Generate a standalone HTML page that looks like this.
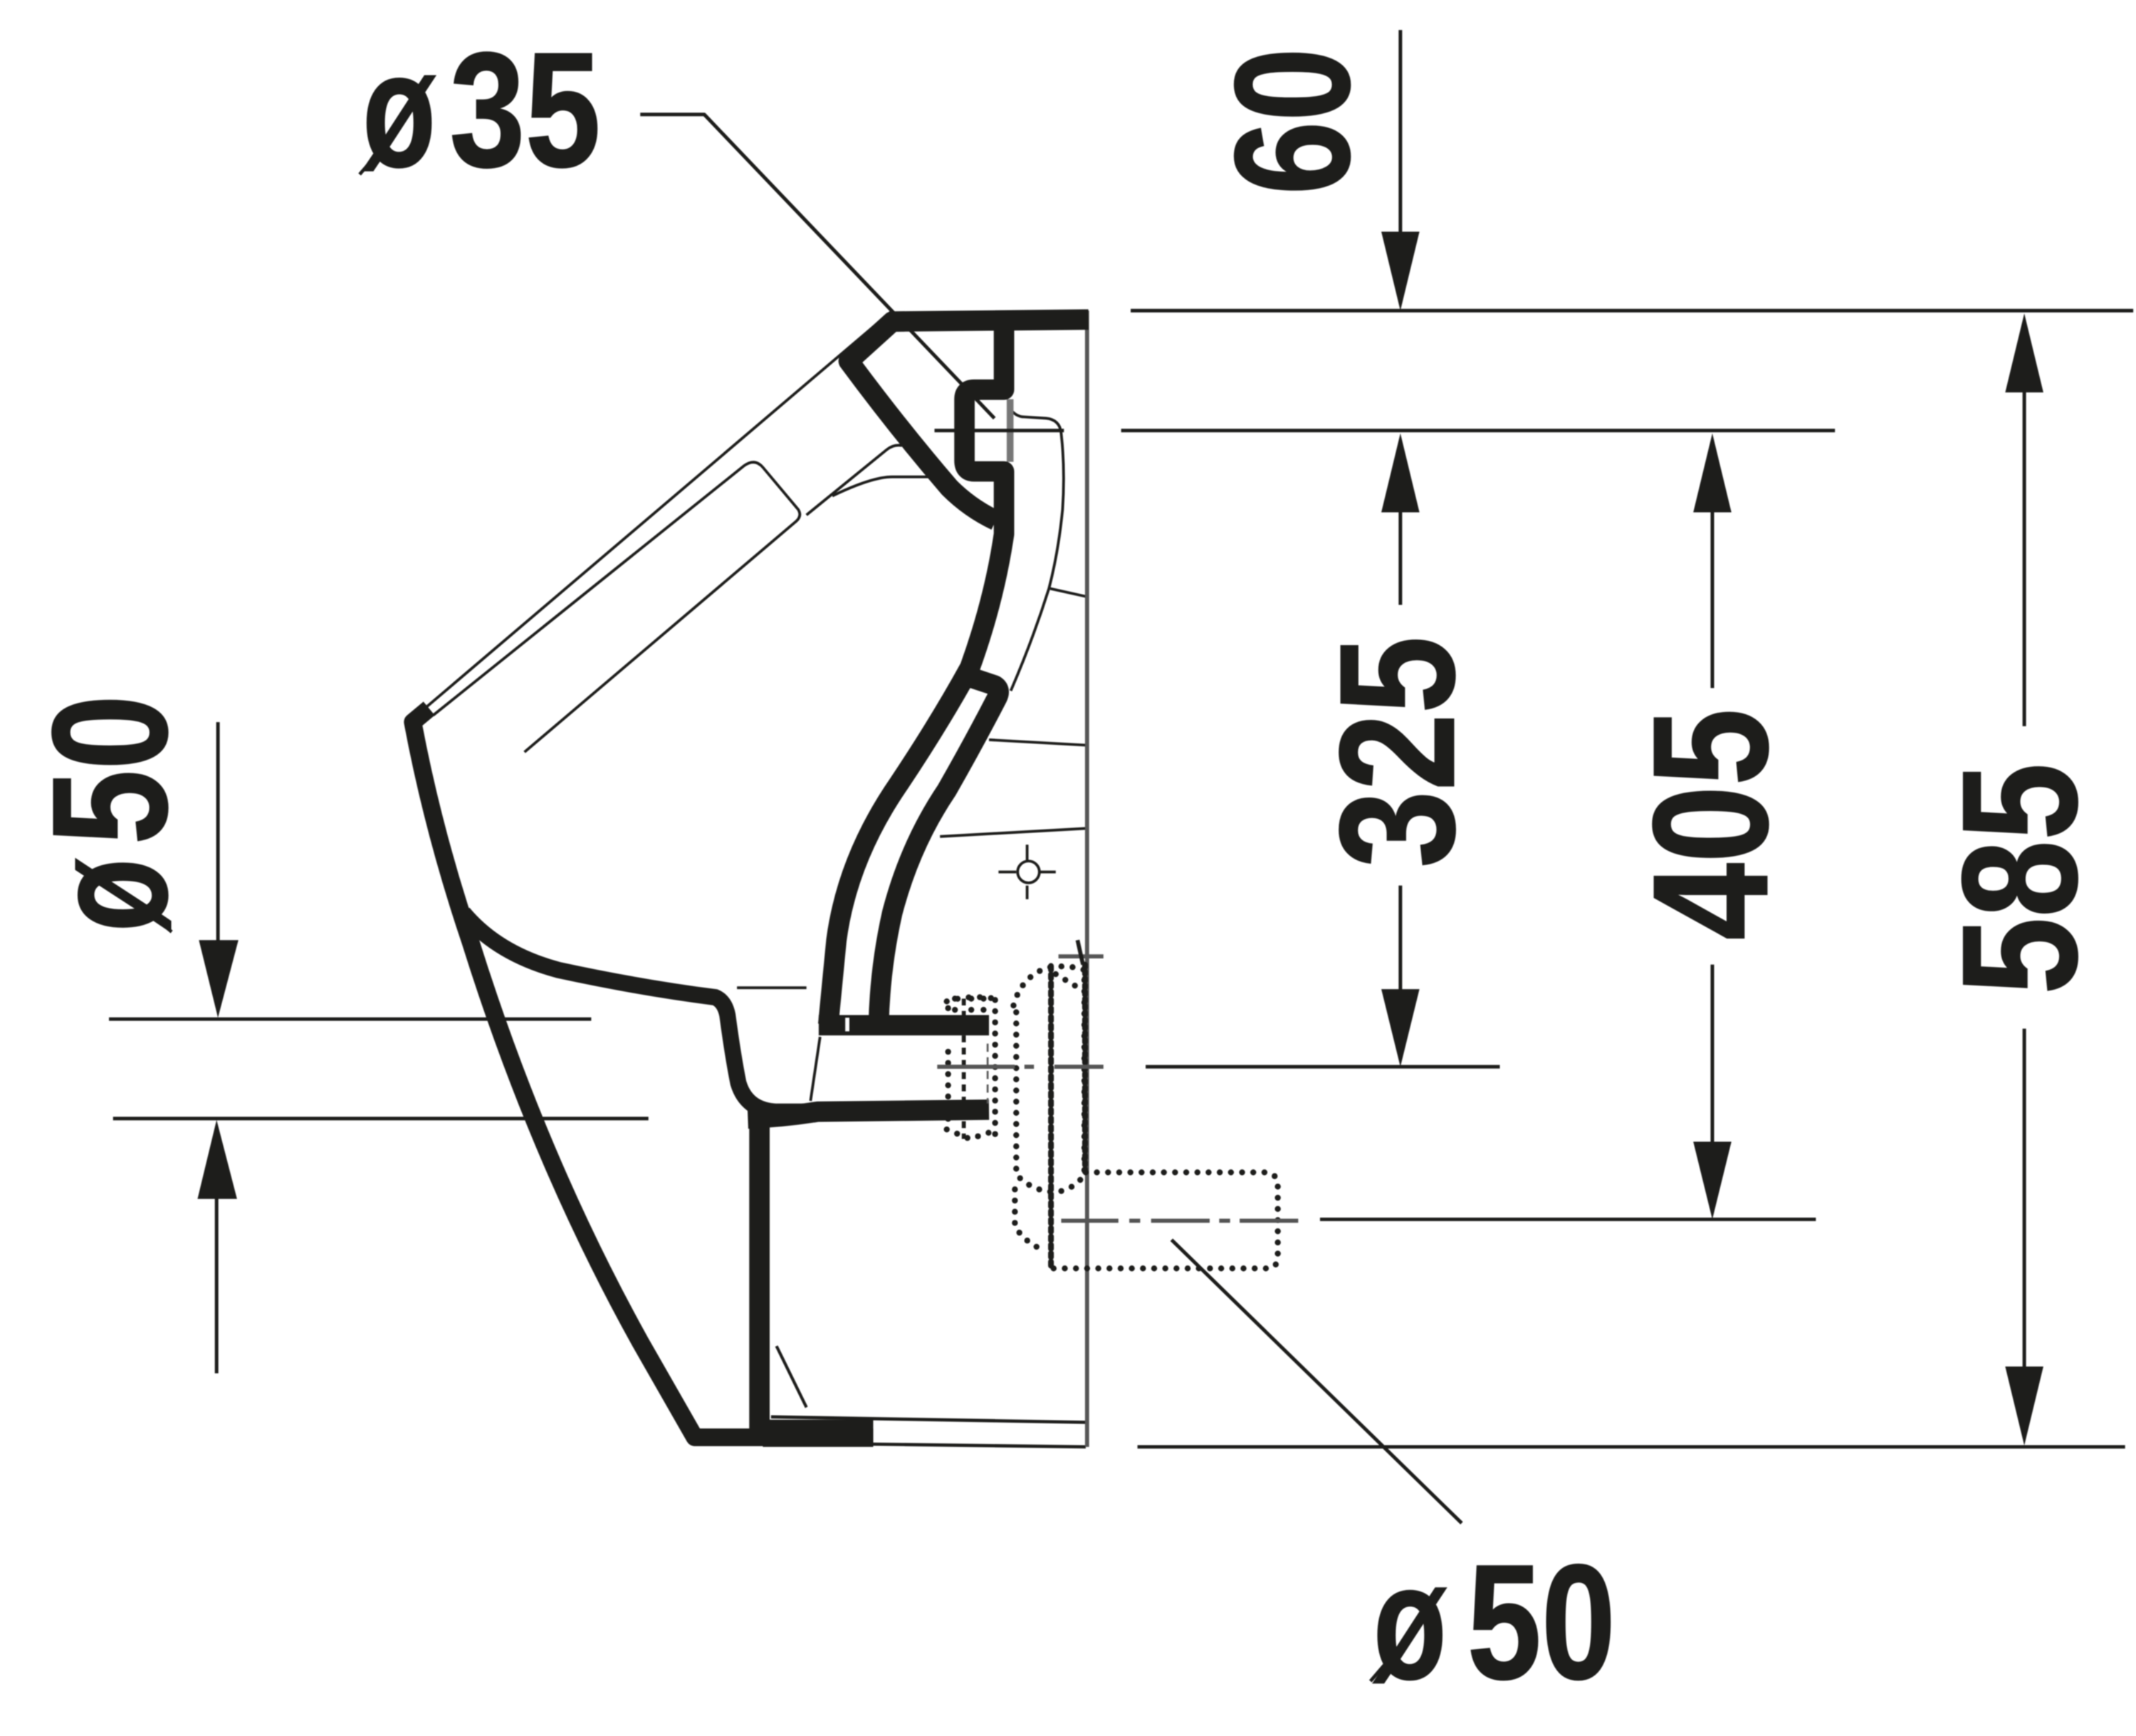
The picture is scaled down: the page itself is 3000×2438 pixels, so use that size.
<!DOCTYPE html>
<html><head><meta charset="utf-8"><style>
html,body{margin:0;padding:0;background:#fff}
svg{display:block;filter:blur(0.8px)}
text{font-family:"Liberation Sans",sans-serif;font-weight:700;font-size:120px;fill:#1d1d1b;stroke:#1d1d1b;stroke-width:1}
</style></head><body>
<svg xmlns="http://www.w3.org/2000/svg" width="3000" height="2438" viewBox="0 0 1568 1274.2">
<rect width="1568" height="1275" fill="#fff"/>
<g fill="none" stroke="#1d1d1b" stroke-linecap="butt" stroke-linejoin="round">
<!-- thin product lines -->
<g stroke-width="2">
<path d="M300 530L655 228"/>
<path d="M318 525L546 342Q554 336 560 343L586 374Q589 379 584 383L385 552"/>
<path d="M592 378L651 330Q656 326 662 327"/>
<path d="M611 364Q640 350 655 350L682 350"/>
<path d="M740 298Q745 306 752 306L768 307Q778 308 779 318Q782 345 780 374Q777 405 770 432Q758 470 742 507"/>
<path d="M771 432L798 438"/>
<path d="M726 543L798 547"/>
<path d="M690 614L798 608"/>
<path d="M541 725L592 725"/>
<path d="M602 761L595 808"/>
<path d="M570 988L592 1033" stroke-width="2.2"/>
<path d="M566 1040L797 1044" stroke-width="2.4"/>
<path d="M640 1060L797 1062" stroke-width="2.4"/>
<path d="M754 620V632M754 650V660M733 640H746M763 640H775"/>
<circle cx="755" cy="640" r="8"/>
</g>
<!-- wall -->
<path d="M798 228V1062" stroke="#555" stroke-width="3"/>
<path d="M741.5 293V339" stroke="#777" stroke-width="5"/>
<!-- dimensions and leaders -->
<g stroke-width="2.6">
<path d="M470 84H517L730 307"/>
<path d="M830 228H1566M823 316H1347M841 783H1101M969 895H1333M835 1062H1560"/>
<path d="M686 316H781"/>
<path d="M80 748H434M83 821H476"/>
<path d="M1028 22V175"/>
<path d="M1028 370V444M1028 650V730"/>
<path d="M1257 370V505M1257 708V840"/>
<path d="M1486 285V533M1486 755V1005"/>
<path d="M160 530V692M159 878V1008"/>
<path d="M860 910L1073 1118"/>
</g>
<!-- thick section -->
<g stroke-width="15">
<path d="M799 234.500L655 236L623 265Q660 315 697 358Q712 373 731 382"/>
<path d="M737 236V286H715Q708 286 708 293V338Q708 346 715 346H737V392Q730 440 712 490Q690 530 660 575Q622 630 614 690L608 752"/>
<path d="M712 497L730 503Q735 506 732 512Q715 545 695 580Q668 620 655 670Q646 710 645 752"/>
</g>
<path d="M315 520L303 530Q318 610 345 690Q395 850 470 985L510 1055H641" stroke-width="13"/>
<path d="M340 670Q365 700 410 712Q470 725 525 732Q532 735 534 745Q538 775 542 795Q548 815 570 816L600 816" stroke-width="12"/>
<path d="M601 752.5H726" stroke-width="15"/>
<path d="M549 821Q575 820 600 816L726 814.5" stroke-width="15"/>
<path d="M557.500 816V1056" stroke-width="15"/>
<rect x="560" y="1042" width="81" height="20" fill="#1d1d1b" stroke="none"/>
<path d="M622 747V757" stroke="#fff" stroke-width="3"/>
<!-- dotted installation -->
<g stroke-width="4.4" stroke-linecap="round" stroke-dasharray="0 8.2">
<path d="M797 860.500H930Q938 862 938 870V922Q938 931 930 931H771.500"/>
<path d="M744 738Q750 716 770 710Q785 708 796 712V862Q790 872 776 875Q758 875 746 862V738"/>
<path d="M775 715L795 727"/>
<path d="M745 873V900Q752 912 767 918"/>
<path d="M730.500 734V836"/>
<path d="M695 735Q712 730 730 733M695 829L712 836L730 830M696 740V760M696 772V828"/>
<path d="M701 733V742M713 733V742M722 733V742"/>
</g>
<path d="M771.500 709V931" stroke-width="4.2" stroke-linecap="round" stroke-dasharray="3 3.2"/>
<path d="M796.500 708V860" stroke-width="4.2" stroke-linecap="round" stroke-dasharray="2 3"/>
<path d="M707.500 733V836" stroke-width="3" stroke-dasharray="5 4"/>
<path d="M725 766V810" stroke="#555" stroke-width="1.400" stroke-dasharray="6 4"/>
<!-- centre lines -->
<g stroke="#555" stroke-width="3">
<path d="M688 783H745M752 783H759M774 783H810"/>
<path d="M779 896H821M829 896H837M845 896H888M895 896H903M910 896H953"/>
<path d="M777 702H810"/>
<path d="M791 690L795 708" stroke="#1d1d1b"/>
</g>
</g>
<!-- arrowheads -->
<g fill="#1d1d1b">
<path d="M1028 228L1014 170H1042Z"/>
<path d="M1028 318L1014 376H1042Z"/><path d="M1028 783L1014 726H1042Z"/>
<path d="M1257 318L1243 376H1271Z"/><path d="M1257 895L1243 838H1271Z"/>
<path d="M1486 230L1472 288H1500Z"/><path d="M1486 1061L1472 1003H1500Z"/>
<path d="M160 747L146 690H175Z"/><path d="M159 822L145 880H174Z"/>
</g>
<!-- labels -->
<text x="266" y="122" textLength="54" lengthAdjust="spacingAndGlyphs">ø</text>
<text x="330" y="122" textLength="111" lengthAdjust="spacingAndGlyphs">35</text>
<path d="M264 128L282 107" stroke="#1d1d1b" stroke-width="2.5"/>
<text x="1008" y="1232" textLength="54" lengthAdjust="spacingAndGlyphs">ø</text>
<text x="1077" y="1232" textLength="109" lengthAdjust="spacingAndGlyphs">50</text>
<path d="M1006 1234L1024 1213" stroke="#1d1d1b" stroke-width="2.5"/>
<text transform="translate(122 684) rotate(-90)" textLength="54" lengthAdjust="spacingAndGlyphs">ø</text>
<text transform="translate(122 620) rotate(-90)" textLength="110" lengthAdjust="spacingAndGlyphs">50</text>
<path d="M126 684L105 666" stroke="#1d1d1b" stroke-width="2.5"/>
<text transform="translate(990 143) rotate(-90)" textLength="108" lengthAdjust="spacingAndGlyphs">60</text>
<text transform="translate(1067 637) rotate(-90)" textLength="170" lengthAdjust="spacingAndGlyphs">325</text>
<text transform="translate(1297 690) rotate(-90)" textLength="170" lengthAdjust="spacingAndGlyphs">405</text>
<text transform="translate(1524 730) rotate(-90)" textLength="170" lengthAdjust="spacingAndGlyphs">585</text>
</svg>
</body></html>
